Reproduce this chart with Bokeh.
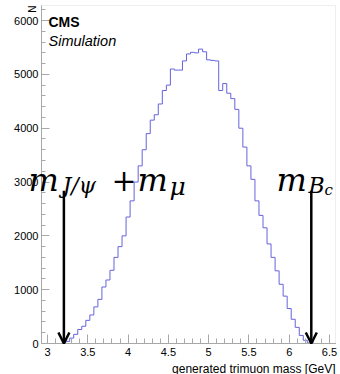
import numpy as np
from bokeh.plotting import figure
from bokeh.models import (Range1d, SingleIntervalTicker, CustomJSTickFormatter, Label,
                          Arrow, OpenHead, GlobalInlineStyleSheet, LinearAxis, BoxAnnotation)
from bokeh.embed import file_html
from bokeh.resources import INLINE

# ---------------- data ----------------
bin_start = 2.925
bin_width = 0.05
counts = [0, 0, 0, 0, 0,
          5, 40, 100, 170, 260, 320, 430, 530, 680, 820,
          1050, 1180, 1360, 1600, 1800, 2000, 2350, 2650, 3000, 3300,
          3600, 3900, 4150, 4250, 4450, 4700, 4800, 5100, 5080, 5080,
          5250, 5380, 5410, 5400, 5470, 5420, 5270, 5260, 5250, 4700,
          4830, 4650, 4550, 4350, 4000, 3650, 3300, 3050, 2650, 2380,
          2150, 1850, 1600, 1350, 1100, 880, 650, 450, 300, 150,
          60, 10,
          0, 0, 0, 0, 0, 0]
m_jpsi_plus_mu = 3.097 + 0.106
m_bc = 6.2745
arrow_top = 2840
x_lo, x_hi = 2.925, 6.575
y_lo, y_hi = 0, 6280

edges = [bin_start + i * bin_width for i in range(len(counts) + 1)]
step_y = counts + [counts[-1]]

# ---------------- layout (pixels of the 340x374 canvas) ----------------
W, H = 340, 374
L, R, T, B = 41, 335, 5, 343

def px2x(px):
    return x_lo + (px - L) / (R - L) * (x_hi - x_lo)

def py2y(py):
    return y_lo + (B - py) / (B - T) * (y_hi - y_lo)

p = figure(width=W, height=H, output_backend="svg", toolbar_location=None,
           x_range=Range1d(px2x(0), px2x(W)), y_range=Range1d(py2y(H), py2y(0)),
           x_axis_type=None, y_axis_type=None, min_border=0,
           min_border_left=0, min_border_right=0, min_border_top=0, min_border_bottom=0)
p.stylesheets = [GlobalInlineStyleSheet(css="body{margin:0 !important;}")]
p.grid.visible = False
p.outline_line_color = None
p.background_fill_color = "white"
p.border_fill_color = "white"

grey = "#a8a8a8"

# ROOT-like frame
p.add_layout(BoxAnnotation(left=x_lo, right=x_hi, bottom=y_lo, top=y_hi,
                           fill_color=None, line_color="#c8c8c8", line_width=1,
                           level="underlay"))

xaxis = LinearAxis(fixed_location=y_lo, bounds=(x_lo, x_hi))
yaxis = LinearAxis(fixed_location=x_lo, bounds=(y_lo, y_hi))
for ax in (xaxis, yaxis):
    ax.axis_line_color = grey
    ax.major_tick_line_color = grey
    ax.minor_tick_line_color = grey
    ax.major_tick_out = 0
    ax.minor_tick_out = 0
    ax.major_label_text_font = "Liberation Sans"
    ax.major_label_text_font_size = "11px"
    ax.major_label_text_color = "black"

xaxis.ticker = SingleIntervalTicker(interval=0.5, num_minor_ticks=5)
xaxis.formatter = CustomJSTickFormatter(code="return tick.toString();")
xaxis.major_tick_in = 9
xaxis.minor_tick_in = 5
xaxis.major_label_standoff = 4

yaxis.ticker = SingleIntervalTicker(interval=1000, num_minor_ticks=5)
yaxis.major_tick_in = 8
yaxis.minor_tick_in = 4
yaxis.major_label_standoff = 3

p.add_layout(xaxis, "below")
p.add_layout(yaxis, "left")

# histogram
p.step(x=edges, y=step_y, mode="after", line_color="#6464dc", line_width=1)

# arrows
for xa in (m_jpsi_plus_mu, m_bc):
    p.add_layout(Arrow(end=OpenHead(size=11, line_width=2.5, line_color="black"),
                       x_start=xa, y_start=arrow_top, x_end=xa, y_end=0,
                       line_width=2.5, line_color="black"))

def lab(text, px, py, size, font="Liberation Sans", style="normal", align="left",
        baseline="alphabetic", angle=0.0):
    p.add_layout(Label(x=px2x(px), y=py2y(py), text=text, text_font=font,
                       text_font_style=style, text_font_size=f"{size}px",
                       text_align=align, text_baseline=baseline, angle=angle,
                       text_color="black"))

# CMS labels
lab("CMS", 48, 21, 14, style="bold")
lab("Simulation", 48, 40, 14.5, style="italic")

# axis titles
lab("generated trimuon mass [GeV]", 335, 368, 12, align="right")
lab("N", 37, 5, 10, align="right", baseline="bottom", angle=np.pi / 2)

# math annotations
mf = "DejaVu Serif"
lab("m", 28, 179, 32, font=mf, style="italic")
lab("J/ψ", 62, 185, 22, font=mf, style="italic")
lab("+", 111, 179, 30, font=mf)
lab("m", 137, 179, 32, font=mf, style="italic")
lab("μ", 169, 186, 25, font=mf, style="italic")
lab("m", 276, 179, 32, font=mf, style="italic")
lab("B", 308, 185, 22, font=mf, style="italic")
lab("c", 324, 189, 15, font=mf, style="italic")

open("out.html", "w").write(file_html(p, INLINE))
